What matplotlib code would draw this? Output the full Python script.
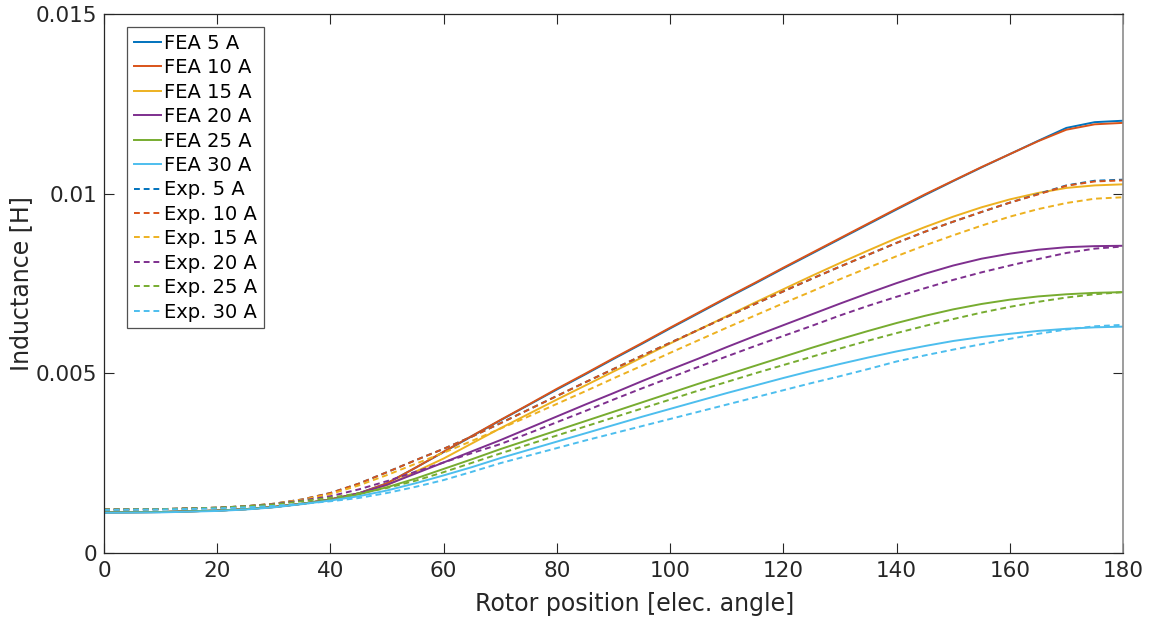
import numpy as np
import matplotlib
matplotlib.use("Agg")
import matplotlib.pyplot as plt

# rotor position samples [elec. deg]
angle = [0, 10, 20, 25, 30, 35, 40, 45, 50, 55, 60, 65, 70, 75, 80, 85, 90, 95, 100,
         105, 110, 115, 120, 125, 130, 135, 140, 145, 150, 155, 160, 165, 170, 175, 180]

# FEA inductance [H]
fea_5a  = [0.00113, 0.00114, 0.00118, 0.00122, 0.00128, 0.00137, 0.00149, 0.00166, 0.00194, 0.00237,
           0.00281, 0.00325, 0.00369, 0.00412, 0.00455, 0.00497, 0.00540, 0.00582, 0.00625, 0.00667,
           0.00709, 0.00750, 0.00792, 0.00833, 0.00874, 0.00915, 0.00956, 0.00996, 0.01035, 0.01073,
           0.01110, 0.01147, 0.01183, 0.01199, 0.01203]
fea_10a = [0.00113, 0.00114, 0.00118, 0.00122, 0.00128, 0.00137, 0.00149, 0.00166, 0.00194, 0.00237,
           0.00282, 0.00326, 0.00370, 0.00413, 0.00457, 0.00499, 0.00542, 0.00584, 0.00627, 0.00669,
           0.00711, 0.00752, 0.00794, 0.00835, 0.00876, 0.00917, 0.00958, 0.00998, 0.01036, 0.01074,
           0.01110, 0.01146, 0.01178, 0.01193, 0.01197]
fea_15a = [0.00113, 0.00114, 0.00118, 0.00122, 0.00128, 0.00137, 0.00149, 0.00165, 0.00189, 0.00226,
           0.00263, 0.00305, 0.00347, 0.00387, 0.00427, 0.00466, 0.00505, 0.00544, 0.00583, 0.00621,
           0.00659, 0.00697, 0.00734, 0.00771, 0.00807, 0.00842, 0.00876, 0.00907, 0.00936, 0.00962,
           0.00984, 0.01002, 0.01016, 0.01023, 0.01026]
fea_20a = [0.00113, 0.00114, 0.00118, 0.00122, 0.00128, 0.00137, 0.00149, 0.00166, 0.00190, 0.00221,
           0.00252, 0.00283, 0.00314, 0.00347, 0.00380, 0.00413, 0.00445, 0.00478, 0.00510, 0.00541,
           0.00573, 0.00604, 0.00634, 0.00664, 0.00694, 0.00723, 0.00751, 0.00777, 0.00800, 0.00819,
           0.00833, 0.00844, 0.00851, 0.00854, 0.00855]
fea_25a = [0.00113, 0.00114, 0.00118, 0.00122, 0.00128, 0.00137, 0.00148, 0.00163, 0.00183, 0.00207,
           0.00234, 0.00261, 0.00289, 0.00315, 0.00341, 0.00367, 0.00393, 0.00419, 0.00445, 0.00471,
           0.00496, 0.00521, 0.00546, 0.00571, 0.00595, 0.00618, 0.00640, 0.00660, 0.00678, 0.00693,
           0.00705, 0.00714, 0.00720, 0.00724, 0.00726]
fea_30a = [0.00112, 0.00113, 0.00117, 0.00121, 0.00127, 0.00136, 0.00146, 0.00158, 0.00174, 0.00194,
           0.00216, 0.00239, 0.00264, 0.00287, 0.00310, 0.00333, 0.00356, 0.00379, 0.00401, 0.00423,
           0.00445, 0.00466, 0.00487, 0.00507, 0.00526, 0.00544, 0.00561, 0.00576, 0.00590, 0.00601,
           0.00610, 0.00618, 0.00624, 0.00628, 0.00630]

# measured inductance [H]
exp_5a  = [0.00121, 0.00122, 0.00126, 0.00130, 0.00137, 0.00149, 0.00167, 0.00193, 0.00225, 0.00258,
           0.00290, 0.00324, 0.00361, 0.00399, 0.00437, 0.00475, 0.00512, 0.00549, 0.00585, 0.00621,
           0.00657, 0.00693, 0.00728, 0.00763, 0.00797, 0.00830, 0.00863, 0.00894, 0.00922, 0.00949,
           0.00975, 0.00999, 0.01023, 0.01036, 0.01039]
exp_10a = [0.00121, 0.00122, 0.00126, 0.00130, 0.00137, 0.00149, 0.00167, 0.00193, 0.00225, 0.00258,
           0.00290, 0.00324, 0.00361, 0.00399, 0.00437, 0.00475, 0.00512, 0.00549, 0.00585, 0.00621,
           0.00657, 0.00693, 0.00728, 0.00763, 0.00797, 0.00830, 0.00863, 0.00894, 0.00922, 0.00949,
           0.00975, 0.00998, 0.01022, 0.01034, 0.01037]
exp_15a = [0.00121, 0.00122, 0.00126, 0.00130, 0.00137, 0.00148, 0.00164, 0.00188, 0.00217, 0.00248,
           0.00279, 0.00312, 0.00346, 0.00380, 0.00415, 0.00450, 0.00486, 0.00521, 0.00557, 0.00592,
           0.00627, 0.00661, 0.00695, 0.00728, 0.00762, 0.00794, 0.00826, 0.00856, 0.00884, 0.00911,
           0.00936, 0.00957, 0.00974, 0.00986, 0.00990]
exp_20a = [0.00121, 0.00122, 0.00126, 0.00130, 0.00136, 0.00146, 0.00158, 0.00177, 0.00200, 0.00226,
           0.00252, 0.00278, 0.00303, 0.00333, 0.00364, 0.00395, 0.00427, 0.00458, 0.00488, 0.00518,
           0.00547, 0.00576, 0.00604, 0.00632, 0.00661, 0.00688, 0.00713, 0.00737, 0.00760, 0.00781,
           0.00800, 0.00818, 0.00835, 0.00847, 0.00853]
exp_25a = [0.00121, 0.00122, 0.00126, 0.00130, 0.00135, 0.00144, 0.00154, 0.00166, 0.00181, 0.00201,
           0.00225, 0.00251, 0.00277, 0.00302, 0.00327, 0.00352, 0.00377, 0.00402, 0.00427, 0.00452,
           0.00476, 0.00500, 0.00523, 0.00546, 0.00569, 0.00591, 0.00612, 0.00632, 0.00651, 0.00669,
           0.00685, 0.00699, 0.00711, 0.00720, 0.00726]
exp_30a = [0.00120, 0.00121, 0.00124, 0.00127, 0.00131, 0.00137, 0.00144, 0.00153, 0.00167, 0.00184,
           0.00203, 0.00226, 0.00250, 0.00271, 0.00292, 0.00313, 0.00333, 0.00353, 0.00373, 0.00393,
           0.00413, 0.00433, 0.00453, 0.00473, 0.00492, 0.00512, 0.00533, 0.00550, 0.00566, 0.00581,
           0.00596, 0.00610, 0.00622, 0.00631, 0.00635]

currents = [5, 10, 15, 20, 25, 30]
fea_all  = [fea_5a, fea_10a, fea_15a, fea_20a, fea_25a, fea_30a]
exp_all  = [exp_5a, exp_10a, exp_15a, exp_20a, exp_25a, exp_30a]
colors   = ["#0072BD", "#D95319", "#EDB120", "#7E2F8E", "#77AC30", "#4DBEEE"]

plt.rcParams["font.family"] = "DejaVu Sans"
TXT = "#262626"

fig = plt.figure(figsize=(11.6, 6.21), dpi=100)
ax = fig.add_axes([104 / 1160, 1 - 553 / 621, 1019 / 1160, 539 / 621])

for cur, y, c in zip(currents, fea_all, colors):
    ax.plot(angle, y, color=c, linewidth=1.4, label=f"FEA {cur} A")
for cur, y, c in zip(currents, exp_all, colors):
    ax.plot(angle, y, color=c, linewidth=1.4, linestyle=(0, (3, 2)),
            label=f"Exp. {cur} A")

ax.set_xlim(0, 180)
ax.set_ylim(0, 0.015)
ax.set_xticks(range(0, 181, 20))
ax.set_yticks([0, 0.005, 0.01, 0.015])
ax.set_yticklabels(["0", "0.005", "0.01", "0.015"])
ax.tick_params(direction="in", length=7.5, width=0.8, top=True, right=True,
               labelsize=15.5, colors=TXT, labelcolor=TXT)
ax.tick_params(axis="x", pad=6)
ax.tick_params(axis="y", pad=5)
for side in ("left", "bottom", "top"):
    ax.spines[side].set_color(TXT)
    ax.spines[side].set_linewidth(0.9)
ax.spines["right"].set_color("#8c8c8c")
ax.spines["right"].set_linewidth(1.2)

ax.set_xlabel("Rotor position [elec. angle]", fontsize=17, color=TXT)
ax.xaxis.set_label_coords(0.521, -0.073)
ax.set_ylabel("Inductance [H]", fontsize=17, color=TXT)
ax.yaxis.set_label_coords(-0.07, 0.5)

leg = ax.legend(loc="upper left", bbox_to_anchor=(0.023, 0.976), borderaxespad=0,
                fontsize=14, handlelength=1.4, handletextpad=0.15,
                labelspacing=0.28, borderpad=0.35, frameon=True, fancybox=False)
leg.get_frame().set_edgecolor(TXT)
leg.get_frame().set_linewidth(0.9)

fig.savefig("out.png", dpi=100)
